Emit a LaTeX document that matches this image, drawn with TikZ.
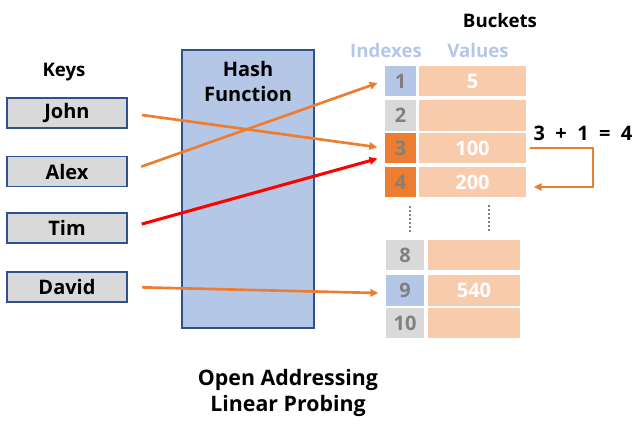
\documentclass[tikz,border=0pt]{standalone}
\usepackage{fontspec}
\setmainfont{Open Sans}
\usetikzlibrary{arrows.meta}
\definecolor{hashblue}{RGB}{180,199,231}
\definecolor{hashedge}{RGB}{47,82,143}
\definecolor{keygray}{RGB}{217,217,217}
\definecolor{probeorange}{RGB}{237,125,49}
\definecolor{valpeach}{RGB}{248,203,173}
\definecolor{idxtext}{RGB}{128,128,128}
\tikzset{
  hf/.style={font=\bfseries\fontsize{15}{18.75}\selectfont},
  keybox/.style={hf, draw=hashedge, fill=keygray, line width=0.8pt,
    minimum width=90pt, minimum height=22.5pt, inner sep=0pt},
  idx/.style={hf, text=idxtext, draw=white, line width=1pt, inner sep=0pt,
    minimum width=24.75pt, minimum height=24pt},
  val/.style={hf, text=white, fill=valpeach, draw=white, line width=1pt,
    inner sep=0pt, minimum width=81.75pt, minimum height=24pt},
  probe/.style={-{Triangle[length=6pt,width=5.5pt]}, line width=2pt,
    draw=probeorange, shorten <=11pt, shorten >=4.5pt},
  clash/.style={probe, draw=red, line width=2.3pt},
  gap/.style={draw=idxtext, line width=2.2pt, dash pattern=on 1.5pt off 1.5pt},
  head/.style={font=\bfseries\fontsize{14}{17}\selectfont},
}
\begin{document}
\begin{tikzpicture}[x=0.75pt,y=-0.75pt]
  \useasboundingbox (0,0) rectangle (639,429);

  % keys
  \node[head] (keys) at (64,72) {Keys};
  \node[keybox] (John) at (67,113) {John};
  \node[keybox] (Alex) at (67,171.5) {Alex};
  \node[keybox] (Tim) at (67,228) {Tim};
  \node[keybox] (David) at (67,287) {David};

  % hash function
  \node[draw=hashedge, fill=hashblue, line width=0.8pt, minimum width=99pt,
    minimum height=208.5pt] (hash) at (248,189) {};
  \node[hf, align=center, anchor=north] (hashlbl) at (248,57) {Hash\\Function};

  % buckets
  \node[head] (buckets) at (500,20) {Buckets};
  \node[head, text=hashblue] (idxhead) at (386,50) {Indexes};
  \node[head, text=hashblue] (valhead) at (478,50) {Values};

  \foreach \n/\y/\f/\v in {1/81/hashblue/5, 2/115.5/keygray/, 3/148/probeorange/100, 4/182/probeorange/200}{
    \node[idx, fill=\f] (i\n) at (400.5,\y) {\n};
    \node[val] (b\n) at (472.5,\y) {\v};
  }
  \foreach \n/\y/\f/\v in {8/255/keygray/, 9/290.5/hashblue/540, 10/323/keygray/}{
    \node[idx, fill=\f, minimum width=30pt] (i\n) at (405,\y) {\n};
    \node[val, minimum width=70.5pt] (b\n) at (474,\y) {\v};
  }
  \draw[gap] (410,206) -- (410,232);
  \draw[gap] (489,205) -- (489,231);

  % hashing
  \draw[probe] (John.east) -- (i3.west);
  \draw[probe] (Alex.east) -- (i1.west);
  \draw[clash] (Tim.east) -- ([yshift=-6.75pt]i3.west);
  \draw[probe] (David.east) -- ([yshift=-2pt]i9.west);

  % linear probing
  \node[hf] (step) at (583,133) {3 ~+~ 1 ~=~ 4};
  \draw[probe, line width=1.3pt, shorten <=2pt] (b3.east) -- ++(65,0)
    |- ([yshift=-3.75pt]b4.east);

  \node[hf, font=\bfseries\fontsize{16}{20}\selectfont, align=center] (title)
    at (288,393) {Open Addressing\\Linear Probing};
\end{tikzpicture}
\end{document}
